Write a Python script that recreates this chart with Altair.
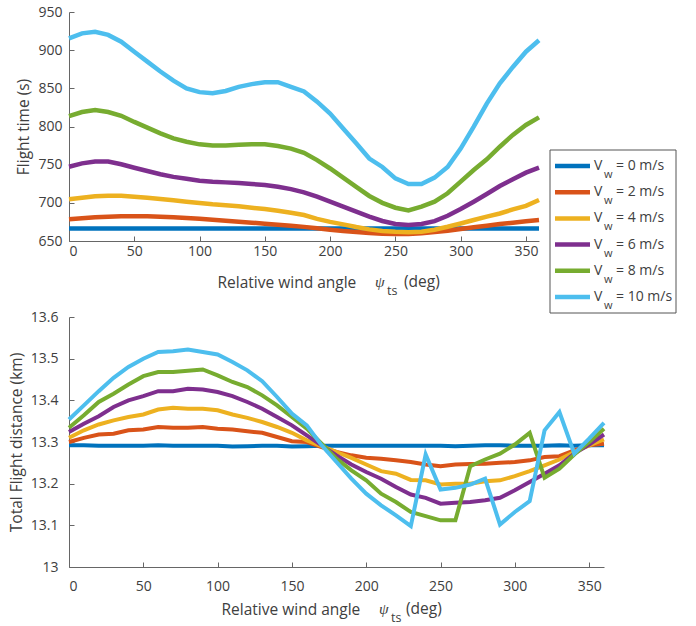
import altair as alt
import pandas as pd

# ---------------- data ----------------
angles = [0, 10, 20, 30, 40, 50, 60, 70, 80, 90, 100, 110, 120, 130, 140, 150, 160, 170, 180,
          190, 200, 210, 220, 230, 240, 250, 260, 270, 280, 290, 300, 310, 320, 330, 340, 350, 360]

series_keys = ["w00", "w02", "w04", "w06", "w08", "w10"]
legend_labels = ["= 0 m/s", "= 2 m/s", "= 4 m/s", "= 6 m/s", "= 8 m/s", "= 10 m/s"]
series_colors = ["#0072BD", "#D95319", "#EDB120", "#7E2F8E", "#77AC30", "#4DBEEE"]

# Flight time (s)
time_0 = [666.4, 666.4, 666.4, 666.4, 666.4, 666.4, 666.4, 666.4, 666.4, 666.4, 666.4, 666.4, 666.4,
          666.4, 666.4, 666.4, 666.4, 666.4, 666.4, 666.4, 666.4, 666.4, 666.4, 666.4, 666.4, 666.4,
          666.4, 666.4, 666.4, 666.4, 666.4, 666.4, 666.4, 666.4, 666.4, 666.4, 666.4]
time_2 = [678.4, 679.7, 681.0, 681.8, 682.3, 682.3, 682.3, 681.8, 681.0, 680.0, 679.0, 677.9, 676.6,
          675.3, 674.0, 672.7, 671.4, 670.0, 668.5, 666.6, 664.8, 663.0, 661.8, 660.5, 659.6, 659.2,
          659.2, 660.0, 661.8, 663.5, 665.7, 667.9, 670.0, 672.3, 674.0, 675.8, 677.5]
time_4 = [704.6, 706.7, 708.5, 709.3, 709.3, 708.0, 706.7, 705.0, 703.3, 701.5, 699.8, 698.0, 696.7,
          695.4, 693.6, 691.9, 689.7, 687.0, 684.0, 679.0, 675.0, 671.8, 668.3, 665.2, 663.0, 662.0,
          661.4, 662.0, 664.8, 668.7, 673.0, 677.5, 682.0, 686.0, 691.4, 696.0, 703.7]
time_6 = [747.3, 751.7, 754.0, 754.0, 750.5, 746.0, 741.7, 737.4, 734.0, 731.6, 729.0, 727.7, 726.8,
          726.0, 724.7, 723.4, 721.0, 718.0, 713.8, 708.0, 701.5, 695.0, 688.4, 682.0, 676.2, 672.3,
          671.0, 672.3, 676.0, 683.0, 691.9, 701.5, 711.5, 722.0, 731.0, 739.5, 746.0]
time_8 = [813.7, 819.0, 821.6, 819.0, 814.0, 806.0, 798.5, 791.0, 784.5, 780.0, 776.6, 775.0, 775.0,
          776.0, 776.6, 776.6, 774.5, 771.0, 765.5, 756.0, 745.0, 733.0, 721.0, 709.0, 700.0, 693.6,
          690.0, 695.0, 701.5, 712.5, 727.7, 743.0, 757.0, 773.5, 789.0, 802.0, 812.0]
time_10 = [915.5, 922.0, 924.0, 920.0, 911.0, 898.0, 885.0, 872.0, 860.0, 850.0, 845.0, 843.5, 846.5,
           852.0, 855.5, 858.0, 858.0, 852.0, 846.0, 832.5, 817.0, 797.5, 778.0, 758.0, 747.0, 732.0,
           724.7, 724.7, 733.0, 747.0, 771.0, 799.7, 830.0, 856.5, 878.0, 898.0, 913.0]

# Total flight distance (km)
dist_0 = [13.292, 13.292, 13.291, 13.291, 13.291, 13.291, 13.292, 13.291, 13.291, 13.291, 13.291,
          13.289, 13.290, 13.291, 13.291, 13.289, 13.290, 13.291, 13.291, 13.291, 13.291, 13.291,
          13.291, 13.291, 13.291, 13.291, 13.290, 13.291, 13.292, 13.292, 13.291, 13.291, 13.291,
          13.292, 13.291, 13.292, 13.292]
dist_2 = [13.300, 13.310, 13.318, 13.320, 13.328, 13.330, 13.336, 13.334, 13.334, 13.336, 13.332,
          13.330, 13.326, 13.322, 13.312, 13.302, 13.300, 13.288, 13.276, 13.268, 13.262, 13.260,
          13.256, 13.252, 13.246, 13.242, 13.246, 13.247, 13.248, 13.250, 13.252, 13.256, 13.264,
          13.266, 13.280, 13.292, 13.296]
dist_4 = [13.310, 13.328, 13.342, 13.352, 13.360, 13.366, 13.378, 13.382, 13.380, 13.380, 13.376,
          13.366, 13.358, 13.348, 13.336, 13.322, 13.304, 13.290, 13.276, 13.262, 13.246, 13.230,
          13.224, 13.209, 13.208, 13.198, 13.200, 13.200, 13.206, 13.208, 13.218, 13.230, 13.244,
          13.258, 13.276, 13.292, 13.306]
dist_6 = [13.324, 13.344, 13.362, 13.384, 13.400, 13.410, 13.422, 13.422, 13.428, 13.426, 13.420,
          13.410, 13.396, 13.380, 13.360, 13.340, 13.316, 13.292, 13.268, 13.246, 13.228, 13.212,
          13.192, 13.174, 13.166, 13.152, 13.154, 13.156, 13.160, 13.166, 13.184, 13.204, 13.224,
          13.244, 13.272, 13.294, 13.318]
dist_8 = [13.334, 13.364, 13.396, 13.416, 13.438, 13.458, 13.468, 13.468, 13.471, 13.474, 13.460,
          13.444, 13.432, 13.412, 13.388, 13.360, 13.332, 13.296, 13.260, 13.232, 13.208, 13.176,
          13.156, 13.132, 13.122, 13.112, 13.112, 13.242, 13.258, 13.272, 13.294, 13.322, 13.214,
          13.236, 13.270, 13.300, 13.332]
dist_10 = [13.354, 13.388, 13.422, 13.454, 13.480, 13.500, 13.516, 13.518, 13.522, 13.516, 13.510,
           13.492, 13.472, 13.446, 13.408, 13.368, 13.340, 13.292, 13.252, 13.212, 13.176, 13.148,
           13.124, 13.098, 13.270, 13.186, 13.190, 13.198, 13.212, 13.102, 13.132, 13.158, 13.328,
           13.372, 13.272, 13.308, 13.346]

x_ticks = [0, 50, 100, 150, 200, 250, 300, 350]
time_ticks = [650, 700, 750, 800, 850, 900, 950]
dist_ticks = [13.0, 13.1, 13.2, 13.3, 13.4, 13.5, 13.6]


def to_long(series_lists):
    rows = []
    for key, vals in zip(series_keys, series_lists):
        for a, v in zip(angles, vals):
            rows.append({"angle": a, "value": v, "key": key})
    return pd.DataFrame(rows)


df_time = to_long([time_0, time_2, time_4, time_6, time_8, time_10])
df_dist = to_long([dist_0, dist_2, dist_4, dist_6, dist_8, dist_10])
df_legend = pd.DataFrame({"key": series_keys, "label": legend_labels, "row": list(range(6))})
one = pd.DataFrame({"a": [0]})

FONT = "Open Sans"
SERIF = "Liberation Serif"
TXT = "#404040"
AX = "#666666"
TICK = 5
TFS = 15.5

color = alt.Color("key:N", scale=alt.Scale(domain=series_keys, range=series_colors), legend=None)


def x_enc(h, label_pad, title_x, title_y):
    return alt.X("angle:Q", scale=alt.Scale(domain=[0, 360], nice=False, zero=False),
                 axis=alt.Axis(values=x_ticks, title="Relative wind angle",
                               labelPadding=label_pad, titleX=title_x, titleY=title_y,
                               titleAlign="left", titleBaseline="alphabetic",
                               grid=True, gridDash=[0, h - TICK, TICK, 3000], gridColor=AX,
                               gridOpacity=1, ticks=False))


def y_enc(domain, ticks, title, label_pad, title_pad, fmt=None):
    kw = dict(values=ticks, title=title, labelPadding=label_pad, titlePadding=title_pad,
              grid=True, gridDash=[TICK, 3000], gridColor=AX, gridOpacity=1, ticks=False)
    if fmt:
        kw["format"] = fmt
    return alt.Y("value:Q", scale=alt.Scale(domain=domain, nice=False, zero=False),
                 axis=alt.Axis(**kw))


def title_extras(x_psi, x_ts, x_deg, y_base):
    psi = alt.Chart(one).mark_text(text="\u03c8", align="left", baseline="alphabetic",
                                   fontSize=TFS, font=SERIF, fontStyle="italic", color=TXT
                                   ).encode(x=alt.value(x_psi), y=alt.value(y_base))
    ts = alt.Chart(one).mark_text(text="ts", align="left", baseline="alphabetic",
                                  fontSize=12.5, font=FONT, color=TXT
                                  ).encode(x=alt.value(x_ts), y=alt.value(y_base + 8))
    deg = alt.Chart(one).mark_text(text="(deg)", align="left", baseline="alphabetic",
                                   fontSize=TFS, font=FONT, color=TXT
                                   ).encode(x=alt.value(x_deg), y=alt.value(y_base))
    return [psi, ts, deg]


# ---------------- top panel ----------------
W1, H1 = 470, 229
top_lines = alt.Chart(df_time).mark_line(strokeWidth=4.5).encode(
    x=x_enc(H1, 3, 148, 46),
    y=y_enc([650, 950], time_ticks, "Flight time (s)", 7, 6),
    color=color,
)

legend_box = alt.Chart(one).mark_rect(
    fill="white", stroke="#555555", strokeWidth=1
).encode(x=alt.value(481), x2=alt.value(607), y=alt.value(138), y2=alt.value(301))

leg_base = alt.Chart(df_legend).transform_calculate(ly="154 + datum.row * 26.2")
leg_y = alt.Y("ly:Q", scale=None, axis=None)
legend_sym = leg_base.mark_rule(strokeWidth=4.5).encode(
    x=alt.value(486), x2=alt.value(521), y=leg_y, color=color)
legend_v = leg_base.mark_text(text="V", align="left", baseline="middle", fontSize=14,
                              font=FONT, color=TXT).encode(x=alt.value(525), y=leg_y)
legend_w = leg_base.mark_text(text="w", align="left", baseline="middle", fontSize=11,
                              font=FONT, color=TXT, dy=9).encode(x=alt.value(535), y=leg_y)
legend_t = leg_base.mark_text(align="left", baseline="middle", fontSize=14,
                              font=FONT, color=TXT).encode(x=alt.value(547), y=leg_y,
                                                           text="label:N")

top = alt.layer(
    top_lines, *title_extras(306, 318, 335, H1 + 46),
    legend_box, legend_sym, legend_v, legend_w, legend_t
).resolve_scale(y="independent").properties(width=W1, height=H1)

# ---------------- bottom panel ----------------
W2, H2 = 535, 250
bottom_lines = alt.Chart(df_dist).mark_line(strokeWidth=4).encode(
    x=x_enc(H2, 12, 152, 47),
    y=y_enc([13.0, 13.6], dist_ticks, "Total Flight distance (km)", 11, 6, ".1~f"),
    color=color,
)
bottom = alt.layer(
    bottom_lines, *title_extras(310, 322, 337, H2 + 47)
).properties(width=W2, height=H2)

chart = alt.vconcat(top, bottom, spacing=76, bounds="flush").properties(
    padding={"left": 9, "top": 5, "right": 5, "bottom": 0}
).configure_view(stroke=None).configure_axis(
    labelFont=FONT, titleFont=FONT, labelFontSize=14, titleFontSize=TFS,
    labelColor=TXT, titleColor=TXT, titleFontWeight="normal",
    domainColor=AX, domainWidth=1,
)

chart.save("out.html", embed_options={"renderer": "svg", "actions": False})
